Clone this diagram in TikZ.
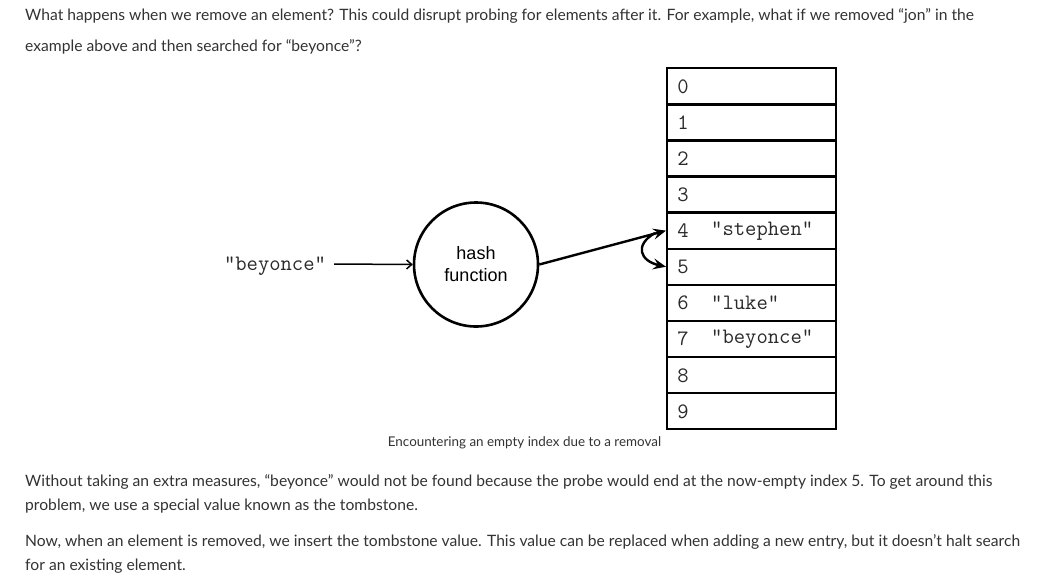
\documentclass[tikz,border=0pt]{standalone}
\usepackage{fontspec}
\setmainfont{Lato}
\newfontfamily\sansfnt{Liberation Sans}
\usetikzlibrary{arrows.meta}
\definecolor{txt}{HTML}{333333}
\definecolor{mono}{HTML}{2A2A2A}
\newcommand\monofnt{\ttfamily\fontsize{22}{24}\selectfont}
\tikzset{
  para/.style={anchor=base west, inner sep=0pt, text=txt, font=\fontsize{15.65}{18}\selectfont},
  cell/.style={draw, line width=2.4pt, minimum width=169pt, minimum height=36.1pt, inner sep=0pt, anchor=north west},
  idx/.style={font=\monofnt, text=mono, inner sep=0pt},
  val/.style={font=\monofnt, text=mono, inner sep=0pt, anchor=west},
  bigarrow/.style={line width=2.4pt, -{Stealth[length=13pt,width=11pt,inset=5pt]}},
}
\begin{document}
\begin{tikzpicture}[x=1pt,y=-1pt]
\useasboundingbox (0,0) rectangle (1059,587);
\fill[white] (0,0) rectangle (1059,587);
% top paragraph
\node[para] (t1) at (25,20.5) {What happens when we remove an element? This could disrupt probing for elements after it. For example, what if we removed “jon” in the};
\node[para] (t2) at (25,51.5) {example above and then searched for “beyonce”?};
% table
\foreach \i in {0,...,9} {
  \node[cell] (r\i) at (666,{67+36.1*\i}) {};
  \node[idx] (i\i) at (683,{67+36.1*\i+19.5}) {\i};
}
\node[val] (v4) at (711,{67+36.1*4+19.5}) {"stephen"};
\node[val] (v6) at (711,{67+36.1*6+19.5}) {"luke"};
\node[val] (v7) at (711,{67+36.1*7+19.5}) {"beyonce"};
% hash function
\node[circle, draw, line width=2.6pt, minimum size=124pt, inner sep=0pt, align=center,
      font=\sansfnt\fontsize{18}{22}\selectfont] (h) at (476,264.5) {hash\\function};
\node[font=\monofnt, text=mono, inner sep=2pt] (b) at (275,266) {"beyonce"};
\draw[line width=1.5pt, -{Straight Barb[length=5pt,width=9pt]}] (b.east) ++(6,-2) coordinate (bs) -- (h.west);
\draw[bigarrow] (h.east) -- (r4.west);
\coordinate (cs) at (655,233);
\draw[bigarrow] (cs) .. controls (634,245) and (640,261) .. (r5.west);
% caption
\node[anchor=base, inner sep=0pt, text=txt, font=\fontsize{13.4}{15}\selectfont] (cap) at (524.5,446) {Encountering an empty index due to a removal};
% bottom paragraphs
\node[para] (p1) at (25,486.5) {Without taking an extra measures, “beyonce” would not be found because the probe would end at the now-empty index 5. To get around this};
\node[para] (p2) at (25,510.5) {problem, we use a special value known as the tombstone.};
\node[para] (p3) at (25,546.5) {Now, when an element is removed, we insert the tombstone value. This value can be replaced when adding a new entry, but it doesn’t halt search};
\node[para] (p4) at (25,570.5) {for an existing element.};
\end{tikzpicture}
\end{document}
